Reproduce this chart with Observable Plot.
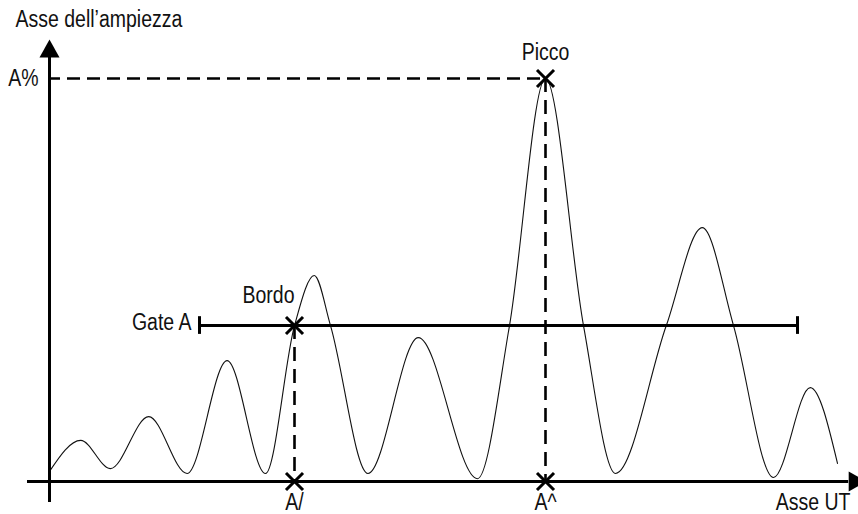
<!DOCTYPE html>
<html>
<head>
<meta charset="utf-8">
<script src="https://cdn.jsdelivr.net/npm/d3@7"></script>
<script src="https://cdn.jsdelivr.net/npm/@observablehq/plot@0.6"></script>
<style>
  html, body { margin: 0; padding: 0; background: #fff; }
</style>
</head>
<body>
<div id="chart"></div>
<script>
// ---- Data (time units along the UT axis, amplitude in % of A%) ----
const waveT = [0, 3.9, 7.6, 12.4, 17.2, 22.2, 27.0, 30.625, 33.1, 35.125, 39.8, 46.1, 53.5, 57.5, 62.0, 66.75, 70.75, 77.1, 81.6, 85.5, 90.5, 95.1, 98.5];
const waveA = [2.5, 10.2, 3.2, 16.1, 2.0, 30.0, 2.0, 38.7, 51.1, 38.7, 2.0, 35.7, 0.7, 38.7, 100, 38.7, 2.0, 38.7, 63.0, 38.7, 1.0, 23.3, 4.5];

const gateStart = 18.75;
const gateEnd = 93.5;
const gateLevel = 38.7;
const bordoT = 30.625;
const peakT = 62;
const peakA = 100;

const yAxisTitle = "Asse dell\u2019ampiezza";
const xAxisTitle = "Asse UT";
const peakLabel = "Picco";
const edgeLabel = "Bordo";
const gateLabel = "Gate A";
const ampLabel = "A%";
const edgeTickLabel = "A/";
const peakTickLabel = "A^";

// ---- Font ----
const fontFamily = '"Liberation Sans", Arial, sans-serif';
const fs = 19.5;
const stretchY = 1.18;

const wave = waveT.map((t, i) => ({t, a: waveA[i]}));

const arrowHead = {
  draw(ctx, size) {
    const r = Math.sqrt(size / Math.PI);
    ctx.moveTo(0, -1.8 * r);
    ctx.lineTo(r, 0);
    ctx.lineTo(-r, 0);
    ctx.closePath();
  }
};

const W = 858, H = 514;
const textOpts = {fontSize: fs, fill: "#111", lineAnchor: "middle"};

const chart = Plot.plot({
  width: W,
  height: H,
  margin: 0,
  style: {fontFamily, fontSize: fs + "px", background: "#fff", overflow: "hidden"},
  x: {domain: [-6.125, 101.125], range: [0, W], axis: null},
  y: {domain: [-8.189, 119.355], range: [H, 0], axis: null},
  marks: [
    // waveform
    Plot.line(wave, {x: "t", y: "a", curve: "monotone-x", stroke: "#111", strokeWidth: 1.1}),
    // dashed guides
    Plot.ruleY([peakA], {x1: 0, x2: peakT, stroke: "#000", strokeWidth: 2.6, strokeDasharray: "13,7", strokeDashoffset: 2}),
    Plot.ruleX([peakT], {y1: peakA, y2: 0, stroke: "#000", strokeWidth: 2.6, strokeDasharray: "14,8"}),
    Plot.ruleX([bordoT], {y1: gateLevel, y2: 0, stroke: "#000", strokeWidth: 2.6, strokeDasharray: "14,8"}),
    // axes
    Plot.ruleY([0], {x1: -2.75, x2: 99.9, stroke: "#000", strokeWidth: 3}),
    Plot.ruleX([0], {y1: -5.2, y2: 105.2, stroke: "#000", strokeWidth: 3}),
    Plot.dot([0], {x: 99.9, y: 0, symbol: arrowHead, r: 10, rotate: 90, fill: "#000", stroke: "none"}),
    Plot.dot([0], {x: 0, y: 105.2, symbol: arrowHead, r: 10, fill: "#000", stroke: "none"}),
    // gate
    Plot.ruleY([gateLevel], {x1: gateStart, x2: gateEnd, stroke: "#000", strokeWidth: 3}),
    Plot.ruleX([gateStart, gateEnd], {y1: gateLevel - 2.2, y2: gateLevel + 2.2, stroke: "#000", strokeWidth: 3}),
    // X markers
    Plot.dot([[bordoT, gateLevel], [bordoT, 0], [peakT, 0], [peakT, peakA]], {
      x: d => d[0], y: d => d[1], symbol: "times", r: 7.8, stroke: "#000", strokeWidth: 3
    }),
    // labels
    Plot.text([yAxisTitle], {text: d => d, frameAnchor: "top-left", dx: 15, dy: 19, textAnchor: "start", ...textOpts}),
    Plot.text([xAxisTitle], {text: d => d, frameAnchor: "bottom-right", dx: -8, dy: -12, textAnchor: "end", ...textOpts}),
    Plot.text([peakLabel], {text: d => d, x: peakT, y: peakA, dy: -26, textAnchor: "middle", ...textOpts}),
    Plot.text([edgeLabel], {text: d => d, x: bordoT, y: gateLevel, dx: -26, dy: -30, textAnchor: "middle", ...textOpts}),
    Plot.text([gateLabel], {text: d => d, x: gateStart, y: gateLevel, dx: -8, dy: -3, textAnchor: "end", ...textOpts}),
    Plot.text([ampLabel], {text: d => d, x: 0, y: peakA, dx: -11, dy: 0, textAnchor: "end", ...textOpts}),
    Plot.text([edgeTickLabel], {text: d => d, x: bordoT, y: 0, dy: 21, textAnchor: "middle", ...textOpts}),
    Plot.text([peakTickLabel], {text: d => d, x: peakT, y: 0, dy: 21, textAnchor: "middle", ...textOpts})
  ]
});

// stretch glyphs vertically about their anchor, like the reference lettering
d3.select(chart).selectAll("text").each(function () {
  const tr = this.getAttribute("transform");
  if (tr) {
    this.setAttribute("transform", tr + ` scale(1,${stretchY})`);
  } else {
    const x = +this.getAttribute("x") || 0;
    const y = +this.getAttribute("y") || 0;
    this.setAttribute("transform", `translate(${x},${y}) scale(1,${stretchY}) translate(${-x},${-y})`);
  }
});

document.getElementById("chart").appendChild(chart);
</script>
</body>
</html>
